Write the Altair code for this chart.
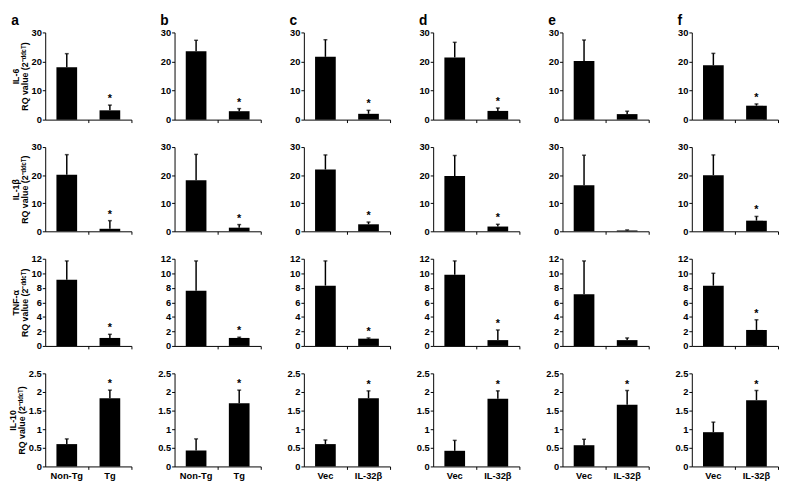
import altair as alt
import pandas as pd

# ---- data ----
PANELS = ["a", "b", "c", "d", "e", "f"]
GENES = ["IL-6", "IL-1β", "TNF-α", "IL-10"]
GROUPS_TG = ["Non-Tg", "Tg"]
GROUPS_VEC = ["Vec", "IL-32β"]

# IL-6
IL6_CTRL = [18.0, 23.5, 21.6, 21.4, 20.2, 18.7]
IL6_CTRL_UP = [22.7, 27.3, 27.5, 26.6, 27.4, 22.8]
IL6_TRT = [3.2, 2.9, 2.0, 3.0, 1.9, 4.8]
IL6_TRT_UP = [5.0, 3.8, 3.2, 4.0, 2.9, 5.4]
IL6_STAR = [1, 1, 1, 1, 0, 1]

# IL-1beta
IL1B_CTRL = [20.1, 18.2, 22.0, 19.7, 16.4, 20.0]
IL1B_CTRL_UP = [27.3, 27.4, 27.2, 27.0, 27.1, 27.2]
IL1B_TRT = [0.9, 1.3, 2.5, 1.7, 0.3, 3.8]
IL1B_TRT_UP = [3.8, 2.4, 3.3, 2.5, 0.5, 5.3]
IL1B_STAR = [1, 1, 1, 1, 0, 1]

# TNF-alpha
TNF_CTRL = [9.1, 7.6, 8.3, 9.8, 7.1, 8.3]
TNF_CTRL_UP = [11.7, 11.7, 11.7, 11.7, 11.7, 10.0]
TNF_TRT = [1.1, 1.1, 1.0, 0.8, 0.8, 2.2]
TNF_TRT_UP = [1.6, 1.2, 1.1, 2.2, 1.1, 3.6]
TNF_STAR = [1, 1, 1, 1, 0, 1]

# IL-10
IL10_CTRL = [0.60, 0.43, 0.60, 0.42, 0.57, 0.92]
IL10_CTRL_UP = [0.74, 0.74, 0.71, 0.70, 0.73, 1.19]
IL10_TRT = [1.83, 1.70, 1.83, 1.82, 1.66, 1.78]
IL10_TRT_UP = [2.05, 2.05, 2.03, 2.03, 2.04, 2.04]
IL10_STAR = [1, 1, 1, 1, 1, 1]

Y_MAX = [30, 30, 12, 2.5]
Y_TICKS = [[0, 10, 20, 30], [0, 10, 20, 30], [0, 2, 4, 6, 8, 10, 12],
           [0, 0.5, 1, 1.5, 2, 2.5]]

ROWS = [
    (IL6_CTRL, IL6_CTRL_UP, IL6_TRT, IL6_TRT_UP, IL6_STAR),
    (IL1B_CTRL, IL1B_CTRL_UP, IL1B_TRT, IL1B_TRT_UP, IL1B_STAR),
    (TNF_CTRL, TNF_CTRL_UP, TNF_TRT, TNF_TRT_UP, TNF_STAR),
    (IL10_CTRL, IL10_CTRL_UP, IL10_TRT, IL10_TRT_UP, IL10_STAR),
]

ROW_HEIGHTS = [89, 86, 89, 95]
PANEL_W = 88
FONT = "Liberation Sans"


def panel(r, c):
    ctrl, ctrl_up, trt, trt_up, star = ROWS[r]
    groups = GROUPS_TG if c < 2 else GROUPS_VEC
    df = pd.DataFrame({
        "group": groups,
        "value": [ctrl[c], trt[c]],
        "upper": [ctrl_up[c], trt_up[c]],
        "star": [0, star[c]],
    })
    last_row = r == len(ROWS) - 1
    xaxis = alt.Axis(
        title=None, labels=last_row, ticks=True, bandPosition=1, tickSize=3,
        labelAngle=0, labelPadding=1, labelFontSize=9.5,
        domainColor="black", tickColor="black",
    )
    x = alt.X("group:N", sort=groups,
              scale=alt.Scale(paddingInner=0, paddingOuter=0), axis=xaxis)
    if c == 0:
        ytitle = [GENES[r], "RQ value (2⁻ᵈᵈᶜᵀ)"]
    else:
        ytitle = None
    yaxis = alt.Axis(title=ytitle, values=Y_TICKS[r], labelExpr="datum.value + ''",
                     labelOverlap=False, labelBound=False, tickSize=3,
                     labelPadding=1, titlePadding=2)
    yscale = alt.Scale(domain=[0, Y_MAX[r]], nice=False, zero=True)
    y_val = alt.Y("value:Q", scale=yscale, axis=yaxis)
    y_up = alt.Y("upper:Q", scale=yscale, axis=yaxis)
    base = alt.Chart(df)
    bars = base.mark_bar(color="black", width={"band": 0.48}).encode(
        x=x, y=y_val)
    err = base.mark_rule(color="black", strokeWidth=1.5).encode(
        x=x, y=y_val, y2="upper:Q")
    cap = base.mark_tick(color="black", orient="horizontal", size=4,
                         thickness=1.5).encode(x=x, y=y_up)
    stars = base.transform_filter("datum.star == 1").mark_text(
        text="*", font=FONT, fontSize=11, fontWeight="bold",
        baseline="bottom", dy=-1, color="black").encode(x=x, y=y_up)
    ch = alt.layer(bars, err, cap, stars)
    props = dict(width=PANEL_W, height=ROW_HEIGHTS[r])
    if r == 0:
        props["title"] = alt.TitleParams(
            PANELS[c], anchor="start", frame="bounds", fontSize=14,
            fontWeight="bold", font=FONT, color="black", offset=0)
    return ch.properties(**props)


panels = [panel(r, c) for r in range(4) for c in range(6)]

chart = alt.concat(
    *panels, columns=6, spacing={"row": 18, "column": 25},
    align={"row": "each", "column": "all"},
).properties(
    padding={"left": 0, "top": 1, "right": 0, "bottom": 0},
    background="white",
).configure_view(stroke=None).configure_axis(
    labelFont=FONT, labelFontWeight="bold", labelFontSize=9.5,
    labelColor="black", titleFont=FONT, titleFontWeight="bold",
    titleFontSize=9, titleColor="black", titleLineHeight=9,
    domainColor="black", tickColor="black", grid=False,
    labelOverlap=False,
).configure_axisY(labelOverlap=False)

chart.save("out.html", embed_options={"renderer": "svg", "actions": False})
